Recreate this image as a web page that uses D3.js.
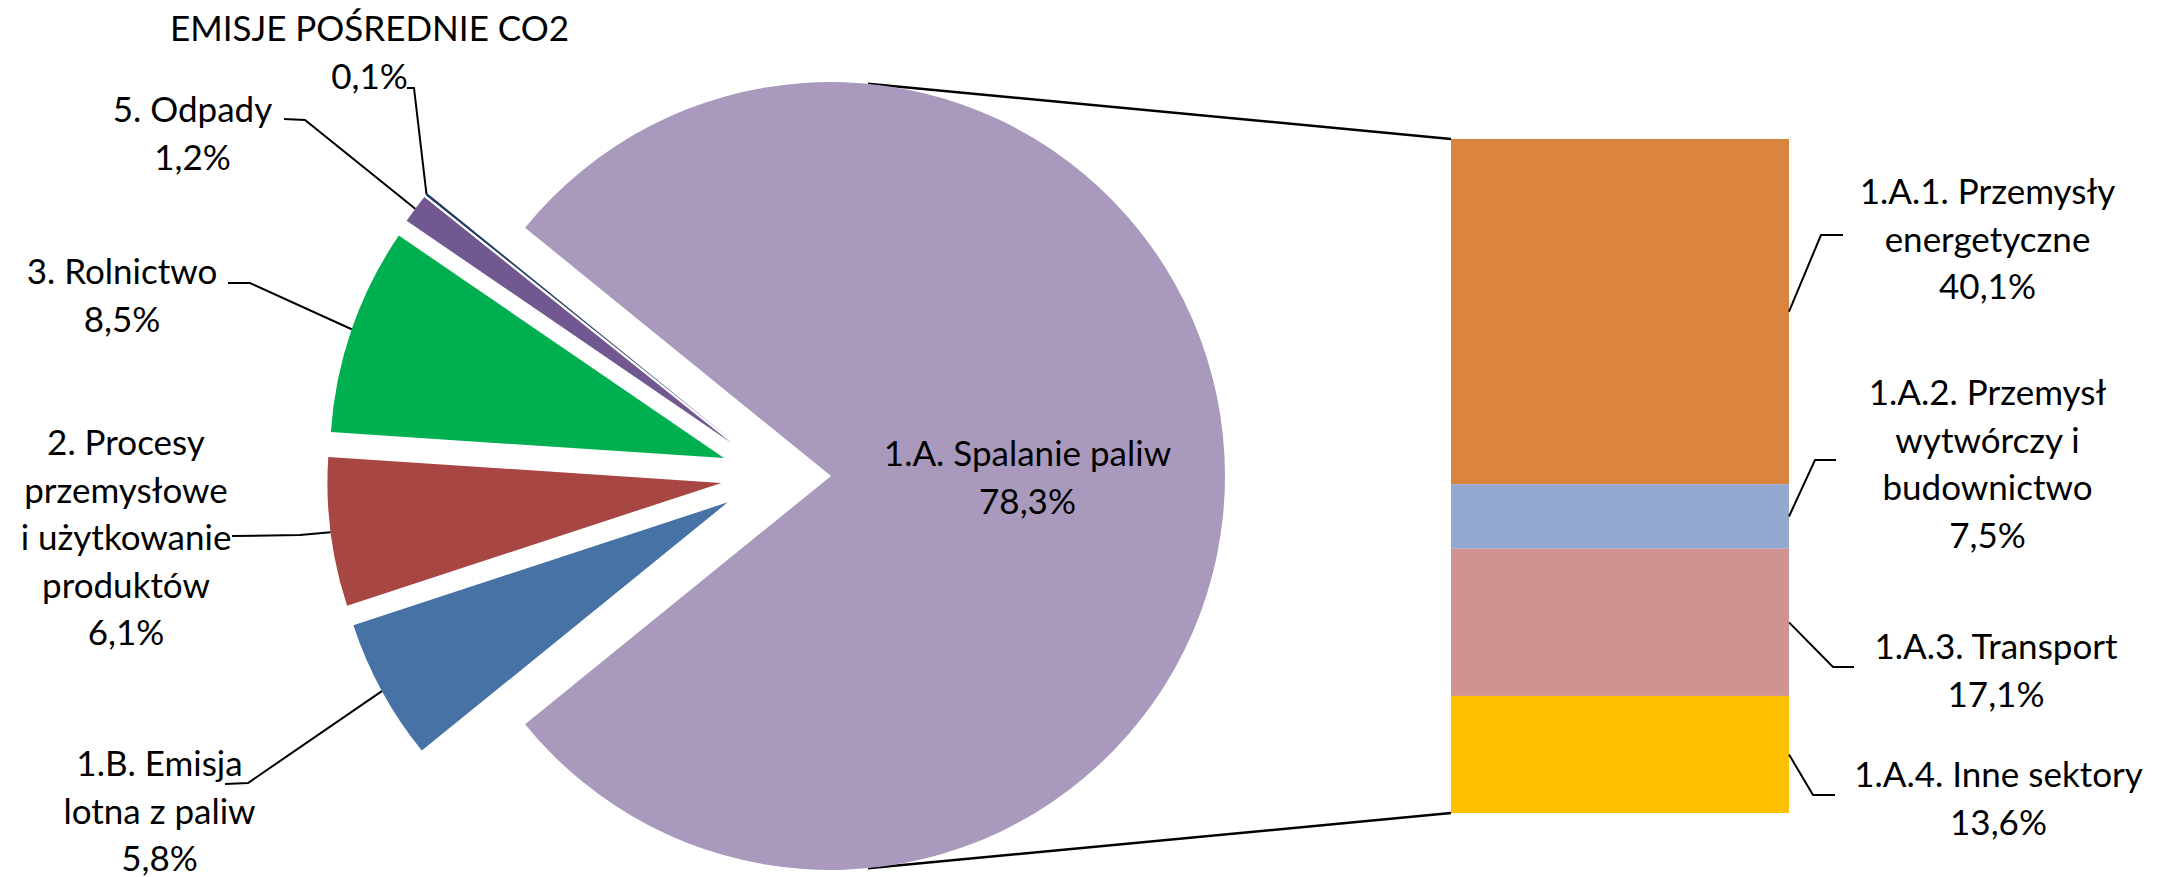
<!DOCTYPE html>
<html>
<head>
<meta charset="utf-8">
<title>Emisje - pie of bar</title>
<script src="https://cdnjs.cloudflare.com/ajax/libs/d3/7.8.5/d3.min.js"></script>
<style>
  body { margin: 0; background: #fff; }
  text { font-family: Lato, "Open Sans", sans-serif; font-size: 35px; fill: #000; }
</style>
</head>
<body>
<script>

// pie slices, clockwise; the first one is split out into the bar
var pieCategories = ["1.A. Spalanie paliw", "1.B. Emisja lotna z paliw", "2. Procesy przemysłowe i użytkowanie produktów", "3. Rolnictwo", "5. Odpady", "EMISJE POŚREDNIE CO2"];
var pieValues = [78.3, 5.8, 6.1, 8.5, 1.2, 0.1];
var pieLabelLines = [["1.A. Spalanie paliw"], ["1.B. Emisja", "lotna z paliw"], ["2. Procesy", "przemysłowe", "i użytkowanie", "produktów"], ["3. Rolnictwo"], ["5. Odpady"], ["EMISJE POŚREDNIE CO2"]];
var pieColors = ["#a99abd", "#4672a6", "#a84644", "#00b050", "#715890", "#1f3a5e"];

// bar segments, top to bottom
var barCategories = ["1.A.1. Przemysły energetyczne", "1.A.2. Przemysł wytwórczy i budownictwo", "1.A.3. Transport", "1.A.4. Inne sektory"];
var barValues = [40.1, 7.5, 17.1, 13.6];
var barLabelLines = [["1.A.1. Przemysły", "energetyczne"], ["1.A.2. Przemysł", "wytwórczy i", "budownictwo"], ["1.A.3. Transport"], ["1.A.4. Inne sektory"]];
var barColors = ["#db843d", "#94a9cf", "#d19392", "#ffc000"];

// layout
var width = 2167, height = 877;
var cx = 776, cy = 476, radius = 394, explode = 55;
var barX0 = 1451, barX1 = 1789, barTop = 139, barBottom = 813;
var lineH = 47.5;
var connAngle = 0.094;

// label positions [x, y of first line] and leader [elbow, end]
var pieLabelPos = [[1027.5, 454], [159.5, 764], [126, 443], [122, 272], [192.5, 110], [369.5, 29]];
var pieLeaders = [null, [[248, 783], [225, 784]], [[300, 535], [232, 536]], [[250, 283], [228, 283]], [[305, 120], [284, 119]], [[414, 88], [407, 88]]];
var barLabelPos = [[1987.5, 192], [1987.5, 393], [1996, 647], [1998.5, 775]];
var barLeaders = [[[1821, 235], [1843, 235]], [[1815, 460], [1836, 460]], [[1833, 667], [1854, 667]], [[1813, 795], [1835, 795]]];

var fmt = function(v) { return d3.format(".1f")(v).replace(".", ",") + "%"; };

var svg = d3.select("body").append("svg")
	.attr("width", width)
	.attr("height", height);

var bigShare = pieValues[0] / d3.sum(pieValues);
var start = Math.PI / 2 - bigShare * Math.PI;
var pie = d3.pie().sort(null).startAngle(start).endAngle(start + 2 * Math.PI);
var arcs = pie(pieValues);
var arc = d3.arc().innerRadius(0).outerRadius(radius);

function mid(d) { return (d.startAngle + d.endAngle) / 2; }
function shift(d) { return [explode * Math.sin(mid(d)), -explode * Math.cos(mid(d))]; }

var y = d3.scaleLinear().domain([0, d3.sum(barValues)]).range([barBottom, barTop]);

// stack bar from the bottom up
var segs = [];
var acc = 0;
for (var i = barValues.length - 1; i >= 0; i--) {
	segs[i] = { v0: acc, v1: acc + barValues[i] };
	acc += barValues[i];
}

var line = d3.line();

// series lines from big slice to bar
var bigOff = shift(arcs[0]);
var pTop = [cx + bigOff[0] + radius * Math.sin(connAngle), cy - radius * Math.cos(connAngle)];
var pBot = [cx + bigOff[0] + radius * Math.sin(connAngle), cy + radius * Math.cos(connAngle)];
svg.append("path").attr("d", line([pTop, [barX0, y(acc)]]))
	.attr("fill", "none").attr("stroke", "#000").attr("stroke-width", 2.5);
svg.append("path").attr("d", line([pBot, [barX0, y(0)]]))
	.attr("fill", "none").attr("stroke", "#000").attr("stroke-width", 2.5);

// pie
svg.append("g").attr("transform", "translate(" + cx + "," + cy + ")")
	.selectAll("path")
	.data(arcs)
	.join("path")
	.attr("transform", function(d) { return "translate(" + shift(d) + ")"; })
	.attr("d", arc)
	.attr("fill", function(d, i) { return pieColors[i]; });

// bar
svg.append("g").selectAll("rect")
	.data(segs)
	.join("rect")
	.attr("x", barX0)
	.attr("width", barX1 - barX0)
	.attr("y", function(d) { return y(d.v1); })
	.attr("height", function(d) { return y(d.v0) - y(d.v1); })
	.attr("fill", function(d, i) { return barColors[i]; });

// leader lines
arcs.forEach(function(d, i) {
	if (!pieLeaders[i]) return;
	var a = mid(d);
	var p0 = [cx + (radius + explode) * Math.sin(a), cy - (radius + explode) * Math.cos(a)];
	svg.append("path").attr("d", line([p0, pieLeaders[i][0], pieLeaders[i][1]]))
		.attr("fill", "none").attr("stroke", "#000").attr("stroke-width", 2);
});
segs.forEach(function(d, i) {
	var p0 = [barX1, y((d.v0 + d.v1) / 2)];
	svg.append("path").attr("d", line([p0, barLeaders[i][0], barLeaders[i][1]]))
		.attr("fill", "none").attr("stroke", "#000").attr("stroke-width", 2);
});

// labels
function label(lines, pos) {
	var t = svg.append("text").attr("text-anchor", "middle");
	lines.forEach(function(s, k) {
		t.append("tspan").attr("x", pos[0]).attr("y", pos[1] + k * lineH).attr("dy", "0.35em").text(s);
	});
}
pieValues.forEach(function(v, i) {
	label(pieLabelLines[i].concat([fmt(v)]), pieLabelPos[i]);
});
barValues.forEach(function(v, i) {
	label(barLabelLines[i].concat([fmt(v)]), barLabelPos[i]);
});

</script>
</body>
</html>
